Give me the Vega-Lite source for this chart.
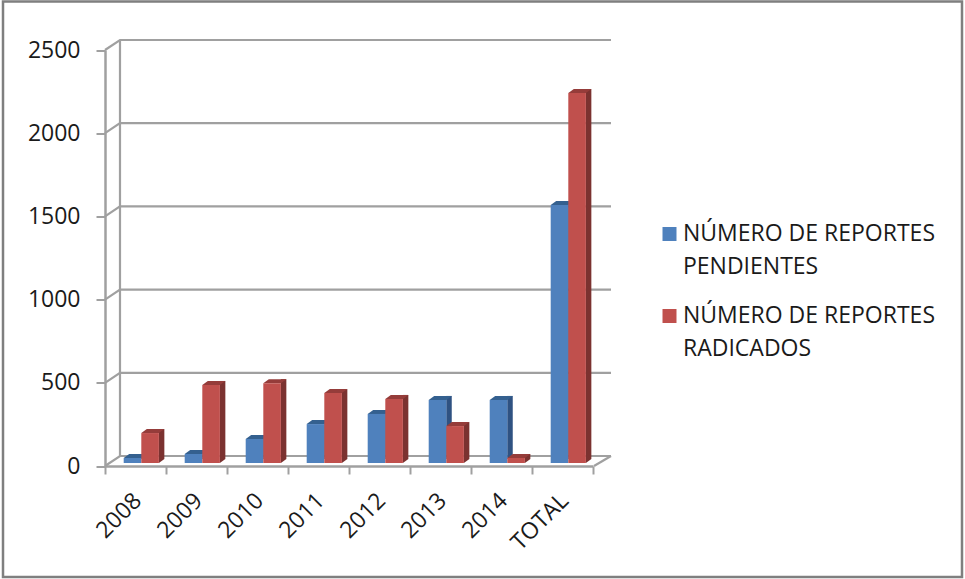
{
"$schema":"https://vega.github.io/schema/vega-lite/v6.json",
"autosize":{"type":"none"},
"padding":{"left":3,"top":1.5,"right":3,"bottom":2},
"width":959,"height":575.5,
"background":"white",
"view":{"stroke":"#7f7f7f","strokeWidth":2.5,"fill":"white"},
"config":{"font":"Open Sans"},
"data":{"values":[
{"anio":"2008","serie":"NÚMERO DE REPORTES PENDIENTES","valor":30},
{"anio":"2009","serie":"NÚMERO DE REPORTES PENDIENTES","valor":54},
{"anio":"2010","serie":"NÚMERO DE REPORTES PENDIENTES","valor":144},
{"anio":"2011","serie":"NÚMERO DE REPORTES PENDIENTES","valor":234},
{"anio":"2012","serie":"NÚMERO DE REPORTES PENDIENTES","valor":295},
{"anio":"2013","serie":"NÚMERO DE REPORTES PENDIENTES","valor":379},
{"anio":"2014","serie":"NÚMERO DE REPORTES PENDIENTES","valor":379},
{"anio":"TOTAL","serie":"NÚMERO DE REPORTES PENDIENTES","valor":1550},
{"anio":"2008","serie":"NÚMERO DE REPORTES RADICADOS","valor":180},
{"anio":"2009","serie":"NÚMERO DE REPORTES RADICADOS","valor":469},
{"anio":"2010","serie":"NÚMERO DE REPORTES RADICADOS","valor":480},
{"anio":"2011","serie":"NÚMERO DE REPORTES RADICADOS","valor":420},
{"anio":"2012","serie":"NÚMERO DE REPORTES RADICADOS","valor":385},
{"anio":"2013","serie":"NÚMERO DE REPORTES RADICADOS","valor":222},
{"anio":"2014","serie":"NÚMERO DE REPORTES RADICADOS","valor":30},
{"anio":"TOTAL","serie":"NÚMERO DE REPORTES RADICADOS","valor":2224}
]},
"encoding":{
"x":{"field":"anio","type":"nominal","title":null,"sort":null,
"scale":{"domain":["2008","2009","2010","2011","2012","2013","2014","TOTAL"],"range":[102,590],"paddingInner":0,"paddingOuter":0},
"axis":{"offset":-111,"tickBand":"extent","labelAngle":-45,"labelFontSize":23,"labelColor":"#1a1a1a","labelPadding":15,"labelOffset":-6,"tickSize":8,"tickWidth":2,"tickColor":"#a0a0a0","domainColor":"#a0a0a0","domainWidth":2.5,"labelLimit":200,"grid":false}},
"y":{"field":"valor","type":"quantitative","title":null,"stack":null,
"scale":{"domain":[0,2500],"range":[464.5,48.5],"nice":false},
"axis":{"offset":-102,"values":[0,500,1000,1500,2000,2500],"format":"d","labelFontSize":23,"labelColor":"#1a1a1a","labelPadding":16,"tickSize":9,"tickWidth":2,"tickColor":"#a0a0a0","domainColor":"#a0a0a0","domainWidth":2.5,"grid":false}}
},
"layer":[
{"data":{"values":[{"t":0},{"t":500},{"t":1000},{"t":1500},{"t":2000},{"t":2500}]},
 "mark":{"type":"point","shape":"M0,0L15,-10L506,-10","filled":false,"size":4,"stroke":"#a0a0a0","strokeWidth":2.2,"opacity":1,"xOffset":-30.5},
 "encoding":{"x":{"datum":"2008"},"y":{"field":"t","type":"quantitative"}}},
{"data":{"values":[{"t":2500}]},
 "mark":{"type":"point","shape":"M15,-10L15,406","filled":false,"size":4,"stroke":"#a0a0a0","strokeWidth":2.2,"opacity":1,"xOffset":-30.5},
 "encoding":{"x":{"datum":"2008"},"y":{"field":"t","type":"quantitative"}}},
{"data":{"values":[{"t":0}]},
 "mark":{"type":"point","shape":"M506,-10L489,0","filled":false,"size":4,"stroke":"#a0a0a0","strokeWidth":2.2,"opacity":1,"xOffset":-30.5},
 "encoding":{"x":{"datum":"2008"},"y":{"field":"t","type":"quantitative"}}},

{"transform":[{"filter":"datum.serie=='NÚMERO DE REPORTES PENDIENTES'"}],
 "mark":{"type":"bar","width":5.5,"xOffset":8.5,"yOffset":-7,"y2Offset":-7,"color":"#2f5282"},
 "encoding":{"y2":{"datum":0}}},
{"transform":[{"filter":"datum.serie=='NÚMERO DE REPORTES PENDIENTES'"}],
 "mark":{"type":"point","shape":"M-8.8,0L-3.3,-4L14.3,-4L8.8,0Z","size":4,"filled":true,"color":"#34608f","opacity":1,"strokeWidth":0,"xOffset":-3,"yOffset":-3}},
{"transform":[{"filter":"datum.serie=='NÚMERO DE REPORTES PENDIENTES'"}],
 "mark":{"type":"bar","width":17.6,"xOffset":-3,"yOffset":-3,"y2Offset":-3},
 "encoding":{"y2":{"datum":0},
 "color":{"field":"serie","type":"nominal","title":null,
  "scale":{"domain":["NÚMERO DE REPORTES PENDIENTES","NÚMERO DE REPORTES RADICADOS"],"range":["#4f81bd","#c0504d"]},
  "legend":{"orient":"none","legendX":655,"legendY":221,"symbolType":"square","symbolSize":196,"symbolOpacity":1,"labelFontSize":23,"labelColor":"#1a1a1a","labelLimit":320,"labelOffset":2,"rowPadding":25,
   "labelExpr":"split(replace(datum.label,'REPORTES ','REPORTES|'),'|')",
   "encode":{"labels":{"update":{"lineHeight":{"value":33}}}}}}}},

{"transform":[{"filter":"datum.serie=='NÚMERO DE REPORTES RADICADOS'"}],
 "mark":{"type":"bar","width":5.5,"xOffset":26.1,"yOffset":-7,"y2Offset":-7,"color":"#7b3230"},
 "encoding":{"y2":{"datum":0}}},
{"transform":[{"filter":"datum.serie=='NÚMERO DE REPORTES RADICADOS'"}],
 "mark":{"type":"point","shape":"M8.8,0L14.3,-4L8.8,-4Z","size":4,"filled":true,"color":"#7b3230","opacity":1,"strokeWidth":0,"xOffset":14.6,"yOffset":-3},
 "encoding":{"y":{"datum":0}}},
{"transform":[{"filter":"datum.serie=='NÚMERO DE REPORTES RADICADOS'"}],
 "mark":{"type":"point","shape":"M-8.8,0L-3.3,-4L14.3,-4L8.8,0Z","size":4,"filled":true,"color":"#953c3a","opacity":1,"strokeWidth":0,"xOffset":14.6,"yOffset":-3}},
{"transform":[{"filter":"datum.serie=='NÚMERO DE REPORTES RADICADOS'"}],
 "mark":{"type":"bar","width":17.6,"xOffset":14.6,"yOffset":-3,"y2Offset":-3},
 "encoding":{"y2":{"datum":0},
 "color":{"field":"serie","type":"nominal","title":null}}}
]
}
